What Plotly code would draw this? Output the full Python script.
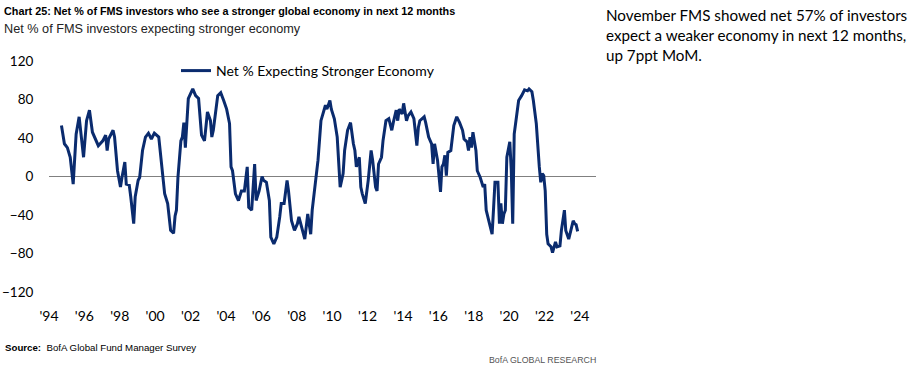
import plotly.graph_objects as go

# ---- data ----
dates = [
    "1994-09","1994-11","1995-01","1995-03","1995-05","1995-07","1995-09","1995-12",
    "1996-02","1996-04","1996-06","1996-08","1996-10","1997-01","1997-03","1997-04",
    "1997-05","1997-08","1997-09","1997-11","1998-01","1998-02","1998-04","1998-05",
    "1998-07","1998-08","1998-10","1998-11","1999-01","1999-02","1999-04","1999-06",
    "1999-08","1999-10","1999-12","2000-03","2000-04","2000-06","2000-07","2000-09",
    "2000-11","2001-01","2001-02","2001-03","2001-04","2001-06","2001-07","2001-08",
    "2001-09","2001-11","2002-02","2002-04","2002-06","2002-08","2002-10","2002-12",
    "2003-02","2003-03","2003-04","2003-07","2003-09","2003-11","2004-01","2004-03",
    "2004-04","2004-05","2004-07","2004-09","2004-11","2005-01","2005-03","2005-04",
    "2005-06","2005-08","2005-09","2005-11","2006-01","2006-02","2006-04","2006-06",
    "2006-07","2006-09","2006-11","2007-01","2007-02","2007-04","2007-06","2007-07",
    "2007-09","2007-11","2008-01","2008-02","2008-04","2008-06","2008-08","2008-10",
    "2008-11","2009-01","2009-03","2009-05","2009-06","2009-08","2009-09","2009-11",
    "2009-12","2010-02","2010-04","2010-05","2010-06","2010-08","2010-09","2010-11",
    "2011-01","2011-03","2011-04","2011-05","2011-07","2011-08","2011-09","2011-11",
    "2012-01","2012-03","2012-04","2012-06","2012-07","2012-08","2012-10","2012-11",
    "2013-01","2013-03","2013-05","2013-06","2013-08","2013-09","2013-10","2013-12",
    "2014-01","2014-03","2014-04","2014-06","2014-08","2014-10","2014-11","2014-12",
    "2015-03","2015-04","2015-06","2015-08","2015-09","2015-10","2015-12","2016-02",
    "2016-03","2016-04","2016-05","2016-06","2016-07","2016-09","2016-11","2017-01",
    "2017-03","2017-05","2017-06","2017-08","2017-09","2017-10","2017-11","2017-12",
    "2018-02","2018-03","2018-05","2018-07","2018-08","2018-09","2018-11","2019-01",
    "2019-02","2019-03","2019-05","2019-06","2019-07","2019-08","2019-09","2019-10",
    "2019-11","2020-01","2020-02","2020-03","2020-04","2020-06","2020-07","2020-09",
    "2020-10","2020-11","2021-01","2021-02","2021-04","2021-05","2021-07","2021-08",
    "2021-09","2021-10","2021-11","2021-12","2022-01","2022-02","2022-03","2022-05",
    "2022-06","2022-08","2022-09","2022-11","2022-12","2023-02","2023-03","2023-05",
    "2023-06","2023-08","2023-09","2023-10","2023-11",
]
net_stronger = [
    53, 34, 30, 20, -8, 44, 62, 20,
    58, 69, 46, 39, 32, 37, 43, 27,
    39, 48, 41, 6, -11, -1, 15, -8,
    -9, -21, -49, -21, -4, -1, 27, 41,
    45, 39, 45, 41, 27, -1, -18, -28,
    -56, -59, -41, -35, -1, 37, 41, 56,
    30, 81, 91, 84, 81, 43, 37, 67,
    58, 41, 48, 84, 87, 79, 70, 55,
    10, 6, -18, -25, -15, -15, 10, -32,
    -35, 13, -25, -15, 0, -4, -6, -25,
    -63, -70, -63, -42, -28, -28, -4, -15,
    -46, -56, -49, -42, -53, -65, -39, -60,
    -35, -8, 17, 58, 63, 74, 70, 79,
    70, 60, 41, 17, -11, 3, 27, 48,
    56, 34, 27, 10, 20, -11, -18, -28,
    -4, 27, 17, -11, -15, 13, 20, 37,
    58, 60, 48, 56, 69, 58, 70, 65,
    76, 58, 63, 67, 60, 32, 51, 58,
    62, 56, 41, 34, 13, 34, 17, -16,
    10, 13, 22, 1, 25, 27, 53, 62,
    56, 48, 39, 36, 27, 41, 30, 46,
    27, 6, -1, -11, -8, -35, -49, -60,
    -32, -6, -6, -49, -28, -49, -39, -35,
    20, 36, 6, -49, 44, 69, 79, 84,
    88, 90, 89, 91, 88, 79, 55, 30,
    10, -6, 3, 1, -15, -60, -70, -73,
    -79, -68, -73, -72, -56, -35, -56, -65,
    -58, -46, -49, -50, -57,
]
y_ticks = [-120, -80, -40, 0, 40, 80, 120]
x_tick_years = list(range(1994, 2025, 2))
x_tick_labels = ["'" + str(y)[2:] for y in x_tick_years]

series_name = "Net % Expecting Stronger Economy"
title_text = "Chart 25: Net % of FMS investors who see a stronger global economy in next 12 months"
subtitle_text = "Net % of FMS investors expecting stronger economy"
comment_text = ("November FMS showed net 57% of investors<br>"
                "expect a weaker economy in next 12 months,<br>"
                "up 7ppt MoM.")

# ---- geometry helpers (pixel -> paper) ----
W, H = 921, 371
L, R, T, B = 49, 596, 61, 292
def px(x):
    return (x - L) / (R - L)
def py(y):
    return (B - y) / (B - T)

NAVY = "#0a2b6e"

fig = go.Figure()
fig.add_trace(go.Scatter(
    x=[d + "-15" for d in dates], y=net_stronger, mode="lines",
    name=series_name, line=dict(color=NAVY, width=3), showlegend=True,
))

fig.update_layout(
    width=W, height=H,
    margin=dict(l=L, r=W - R, t=T, b=H - B, pad=0, autoexpand=False),
    paper_bgcolor="white", plot_bgcolor="white",
    font=dict(family="Lato, Carlito, sans-serif", size=14, color="#000000"),
    showlegend=True, hovermode=False,
    legend=dict(
        x=px(176), y=py(71), xanchor="left", yanchor="middle",
        bgcolor="rgba(0,0,0,0)", borderwidth=0,
        font=dict(family="Lato, sans-serif", size=14, color="#000000"),
        itemwidth=30,
    ),
    xaxis=dict(
        type="date", automargin=False,
        range=["1994-01-01", "2024-11-28"],
        tickvals=[f"{y}-01-01" for y in x_tick_years],
        ticktext=x_tick_labels,
        showgrid=False, zeroline=False, showline=False,
        ticks="outside", ticklen=11, tickcolor="rgba(0,0,0,0)",
        tickfont=dict(family="Lato, sans-serif", size=14, color="#000000"),
        fixedrange=True,
    ),
    yaxis=dict(
        range=[-120, 120], automargin=False,
        tickvals=y_ticks,
        showgrid=False, showline=False,
        zeroline=True, zerolinecolor="#808080", zerolinewidth=1.5,
        ticks="outside", ticklen=12, tickcolor="rgba(0,0,0,0)",
        tickfont=dict(family="Lato, sans-serif", size=13.5, color="#000000"),
        fixedrange=True,
    ),
)

ann = []
ann.append(dict(text="<b>" + title_text + "</b>", x=px(2), y=py(11),
                xref="paper", yref="paper", xanchor="left", yanchor="middle",
                showarrow=False,
                font=dict(family="Liberation Sans Narrow, sans-serif", size=10.8, color="#000000")))
ann.append(dict(text=subtitle_text, x=px(2), y=py(29),
                xref="paper", yref="paper", xanchor="left", yanchor="middle",
                showarrow=False,
                font=dict(family="Liberation Sans Narrow, sans-serif", size=12.7, color="#222222")))
ann.append(dict(text=comment_text, x=px(604), y=py(4),
                xref="paper", yref="paper", xanchor="left", yanchor="top", align="left",
                showarrow=False,
                font=dict(family="Lato, sans-serif", size=15.2, color="#000000")))
ann.append(dict(text="<b>Source:</b>  BofA Global Fund Manager Survey", x=px(3), y=py(347),
                xref="paper", yref="paper", xanchor="left", yanchor="middle",
                showarrow=False,
                font=dict(family="Liberation Sans Narrow, sans-serif", size=9.7, color="#000000")))
ann.append(dict(text="BofA GLOBAL RESEARCH", x=px(598), y=py(360),
                xref="paper", yref="paper", xanchor="right", yanchor="middle",
                showarrow=False,
                font=dict(family="Liberation Sans Narrow, sans-serif", size=8.8, color="#555555")))
fig.update_layout(annotations=ann)

fig.write_html("out.html", config={"displayModeBar": False, "staticPlot": True},
               post_script="document.body.style.margin='0';")
